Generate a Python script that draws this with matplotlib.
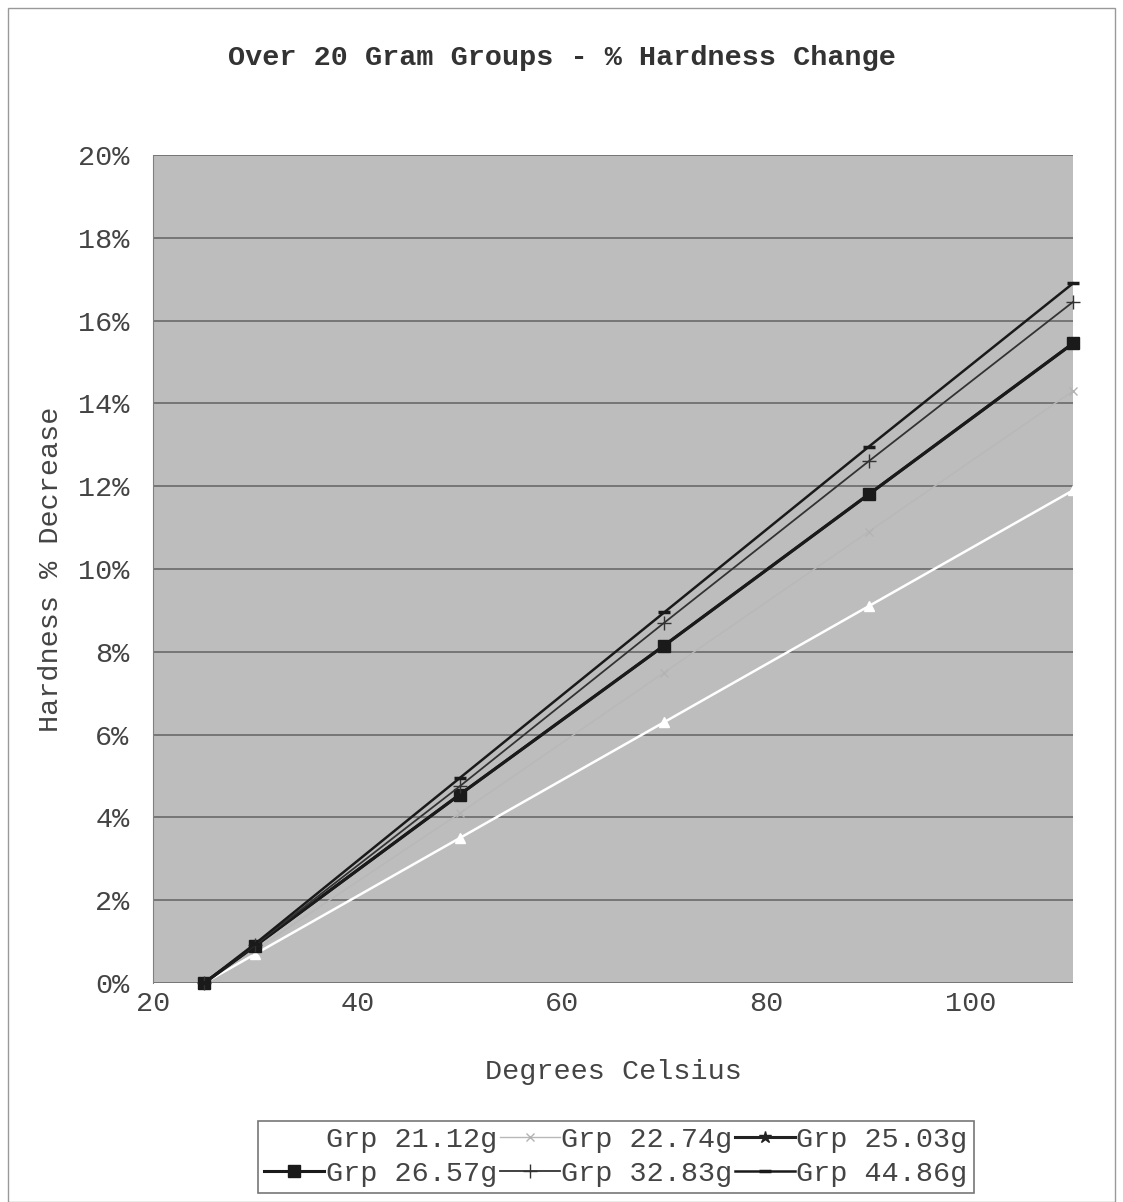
import numpy as np
import matplotlib.pyplot as plt
from matplotlib.patches import Rectangle

# degrees celsius
temps = [25, 30, 50, 70, 90, 110]

# % hardness decrease per group
grp_21_12 = [0.0, 0.7, 3.5, 6.3, 9.1, 11.9]
grp_22_74 = [0.0, 0.8, 4.1, 7.5, 10.9, 14.3]
grp_25_03 = [0.0, 0.9, 4.55, 8.15, 11.8, 15.45]
grp_26_57 = [0.0, 0.9, 4.55, 8.15, 11.8, 15.45]
grp_32_83 = [0.0, 0.92, 4.75, 8.7, 12.6, 16.45]
grp_44_86 = [0.0, 0.95, 4.95, 8.95, 12.95, 16.9]

labels = ["Grp 21.12g", "Grp 22.74g", "Grp 25.03g",
          "Grp 26.57g", "Grp 32.83g", "Grp 44.86g"]

mono = "Liberation Mono"
plt.rcParams['font.family'] = [mono, 'DejaVu Sans']
txt = '#444444'
fs = 20.5

fig = plt.figure(figsize=(11.23, 12.02), dpi=100)
ax = fig.add_axes([153/1123, 1 - 983/1202, (1073-153)/1123, (983-155)/1202])

ax.set_facecolor('#bdbdbd')
ax.set_xlim(20, 110)
ax.set_ylim(0, 20)
ax.set_yticks(np.arange(0, 21, 2))
ax.set_yticklabels([f"{v}%" for v in range(0, 21, 2)])
ax.set_xticks([20, 40, 60, 80, 100])
ax.grid(axis='y', color='#6a6a6a', lw=1.2)
ax.set_axisbelow(True)
for s in ax.spines.values():
    s.set_visible(False)
ax.spines['left'].set_visible(True)
ax.spines['left'].set_color('#808080')
ax.tick_params(axis='both', length=0, labelsize=fs, colors=txt)
ax.tick_params(axis='y', pad=17)
ax.tick_params(axis='x', pad=6)

lines = []
lines += ax.plot(temps, grp_21_12, color='white', lw=1.8, marker='^', ms=7,
                 mfc='white', mec='white', label=labels[0])
lines += ax.plot(temps, grp_22_74, color='#b8b8b8', lw=1.0, marker='x', ms=6,
                 mec='#b3b3b3', label=labels[1])
lines += ax.plot(temps, grp_25_03, color='#222222', lw=2.2, marker='*', ms=9,
                 label=labels[2])
lines += ax.plot(temps, grp_26_57, color='#1a1a1a', lw=2.2, marker='s', ms=8,
                 label=labels[3])
lines += ax.plot(temps, grp_32_83, color='#333333', lw=1.3, marker='+', ms=10,
                 label=labels[4])
lines += ax.plot(temps, grp_44_86, color='#1a1a1a', lw=1.8, marker='_', ms=9,
                 mew=2.5, label=labels[5])

for ln in lines:
    ln.set_clip_on(False)

ax.set_xlabel("Degrees Celsius", fontsize=fs, color=txt, labelpad=30)
ax.set_ylabel("Hardness % Decrease", fontsize=fs, color=txt, labelpad=10)

fig.text(0.5, 1 - 58/1202, "Over 20 Gram Groups - % Hardness Change",
         ha='center', va='center', fontsize=fs, fontweight='bold', color='#333333')

order = [0, 3, 1, 4, 2, 5]
leg = fig.legend([lines[i] for i in order], [labels[i] for i in order],
                 ncol=3, loc='center', bbox_to_anchor=(616/1123, 1 - 1157/1202),
                 fontsize=fs, frameon=True, fancybox=False, edgecolor='#555555',
                 handlelength=2.1, handletextpad=0.05, columnspacing=0.1,
                 labelspacing=0.28, borderpad=0.22, borderaxespad=0)
leg.get_frame().set_linewidth(1.2)
for t in leg.get_texts():
    t.set_color(txt)

fig.patches.append(Rectangle((8/1123, 0.0), 1107/1123, 1 - 8/1202,
                             transform=fig.transFigure, fill=False,
                             edgecolor='#999999', lw=1.0))

fig.savefig("out.png", dpi=100)
